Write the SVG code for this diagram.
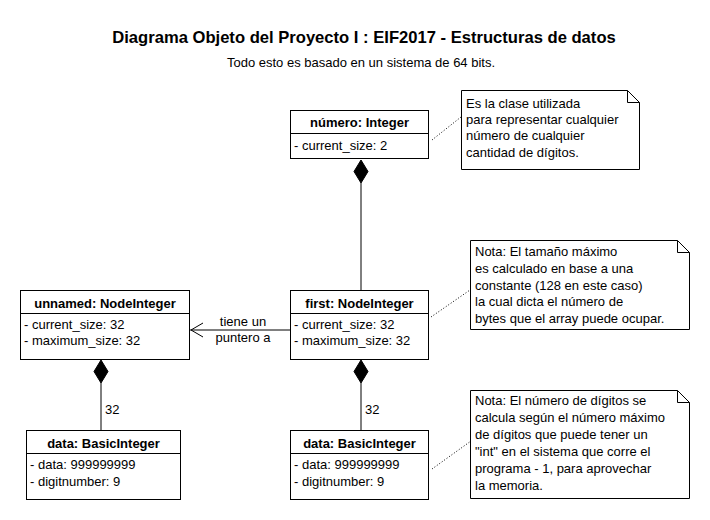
<svg xmlns="http://www.w3.org/2000/svg" width="710" height="520" viewBox="0 0 710 520">
<style>
text{font-family:"Liberation Sans",Arial,sans-serif;font-size:13px;fill:#000}
.t{font-size:16.6px;font-weight:bold}
.h{font-weight:bold;text-anchor:middle}
.m{text-anchor:middle}
.box{fill:#fff;stroke:#000;stroke-width:1}
.ln{stroke:#000;stroke-width:1;fill:none}
.dot{stroke:#000;stroke-width:1;fill:none;stroke-dasharray:1 2}
.dia{fill:#000;stroke:#000}
</style>
<rect width="710" height="520" fill="#fff"/>
<text class="t" x="364" y="43" text-anchor="middle">Diagrama Objeto del Proyecto I : EIF2017 - Estructuras de datos</text>
<text x="361" y="67" text-anchor="middle">Todo esto es basado en un sistema de 64 bits.</text>
<g id="connectors">
<line class="ln" x1="361" y1="183" x2="361" y2="290"/>
<path class="dia" d="M361,160 L368,171.5 L361,183 L354,171.5 Z"/>
<line class="ln" x1="101" y1="383" x2="101" y2="430"/>
<path class="dia" d="M101,360 L108,371.5 L101,383 L94,371.5 Z"/>
<text x="105" y="414">32</text>
<line class="ln" x1="361" y1="383" x2="361" y2="430"/>
<path class="dia" d="M361,360 L368,371.5 L361,383 L354,371.5 Z"/>
<text x="365" y="414">32</text>
<line class="ln" x1="190" y1="330" x2="291" y2="330"/>
<path class="ln" d="M203,323 L191,330 L203,337"/>
<text class="m" x="243" y="326">tiene un</text>
<text class="m" x="243" y="342">puntero a</text>
<line class="dot" x1="432" y1="140" x2="461" y2="117"/>
<line class="dot" x1="431" y1="317" x2="470" y2="290"/>
<line class="dot" x1="432" y1="469" x2="471" y2="441"/>
</g>
<g id="numero">
<rect class="box" x="290.5" y="110.5" width="138" height="48"/>
<line class="ln" x1="290.5" y1="133.5" x2="428.5" y2="133.5"/>
<text class="h" x="359.5" y="127">número: Integer</text>
<text x="294" y="150">- current_size: 2</text>
</g>
<g id="note1">
<path class="box" d="M461.5,90.5 H627.5 L639.5,102.5 V169.5 H461.5 Z"/>
<path class="ln" d="M627.5,90.5 V102.5 H639.5"/>
<text x="466" y="108">Es la clase utilizada</text>
<text x="466" y="124">para representar cualquier</text>
<text x="466" y="140">número de cualquier</text>
<text x="466" y="157">cantidad de dígitos.</text>
</g>
<g id="unnamed">
<rect class="box" x="20.5" y="290.5" width="169" height="69"/>
<line class="ln" x1="20.5" y1="313.5" x2="189.5" y2="313.5"/>
<text class="h" x="105" y="308">unnamed: NodeInteger</text>
<text x="24" y="329">- current_size: 32</text>
<text x="24" y="345">- maximum_size: 32</text>
</g>
<g id="first">
<rect class="box" x="290.5" y="290.5" width="138" height="69"/>
<line class="ln" x1="290.5" y1="313.5" x2="428.5" y2="313.5"/>
<text class="h" x="359.5" y="308">first: NodeInteger</text>
<text x="294" y="329">- current_size: 32</text>
<text x="294" y="345">- maximum_size: 32</text>
</g>
<g id="note2">
<path class="box" d="M470.5,240.5 H677.5 L689.5,252.5 V329.5 H470.5 Z"/>
<path class="ln" d="M677.5,240.5 V252.5 H689.5"/>
<text x="475" y="256">Nota: El tamaño máximo</text>
<text x="475" y="273">es calculado en base a una</text>
<text x="475" y="290">constante (128 en este caso)</text>
<text x="475" y="306">la cual dicta el número de</text>
<text x="475" y="323">bytes que el array puede ocupar.</text>
</g>
<g id="data1">
<rect class="box" x="26.5" y="430.5" width="154" height="69"/>
<line class="ln" x1="26.5" y1="453.5" x2="180.5" y2="453.5"/>
<text class="h" x="103.5" y="448">data: BasicInteger</text>
<text x="30" y="469">- data: 999999999</text>
<text x="30" y="486">- digitnumber: 9</text>
</g>
<g id="data2">
<rect class="box" x="290.5" y="430.5" width="138" height="69"/>
<line class="ln" x1="290.5" y1="453.5" x2="428.5" y2="453.5"/>
<text class="h" x="359.5" y="448">data: BasicInteger</text>
<text x="294" y="469">- data: 999999999</text>
<text x="294" y="486">- digitnumber: 9</text>
</g>
<g id="note3">
<path class="box" d="M470.5,390.5 H677.5 L689.5,402.5 V498.5 H470.5 Z"/>
<path class="ln" d="M677.5,390.5 V402.5 H689.5"/>
<text x="475" y="405">Nota: El número de dígitos se</text>
<text x="475" y="422">calcula según el número máximo</text>
<text x="475" y="439">de dígitos que puede tener un</text>
<text x="475" y="456">"int" en el sistema que corre el</text>
<text x="475" y="473">programa - 1, para aprovechar</text>
<text x="475" y="490">la memoria.</text>
</g>
</svg>
